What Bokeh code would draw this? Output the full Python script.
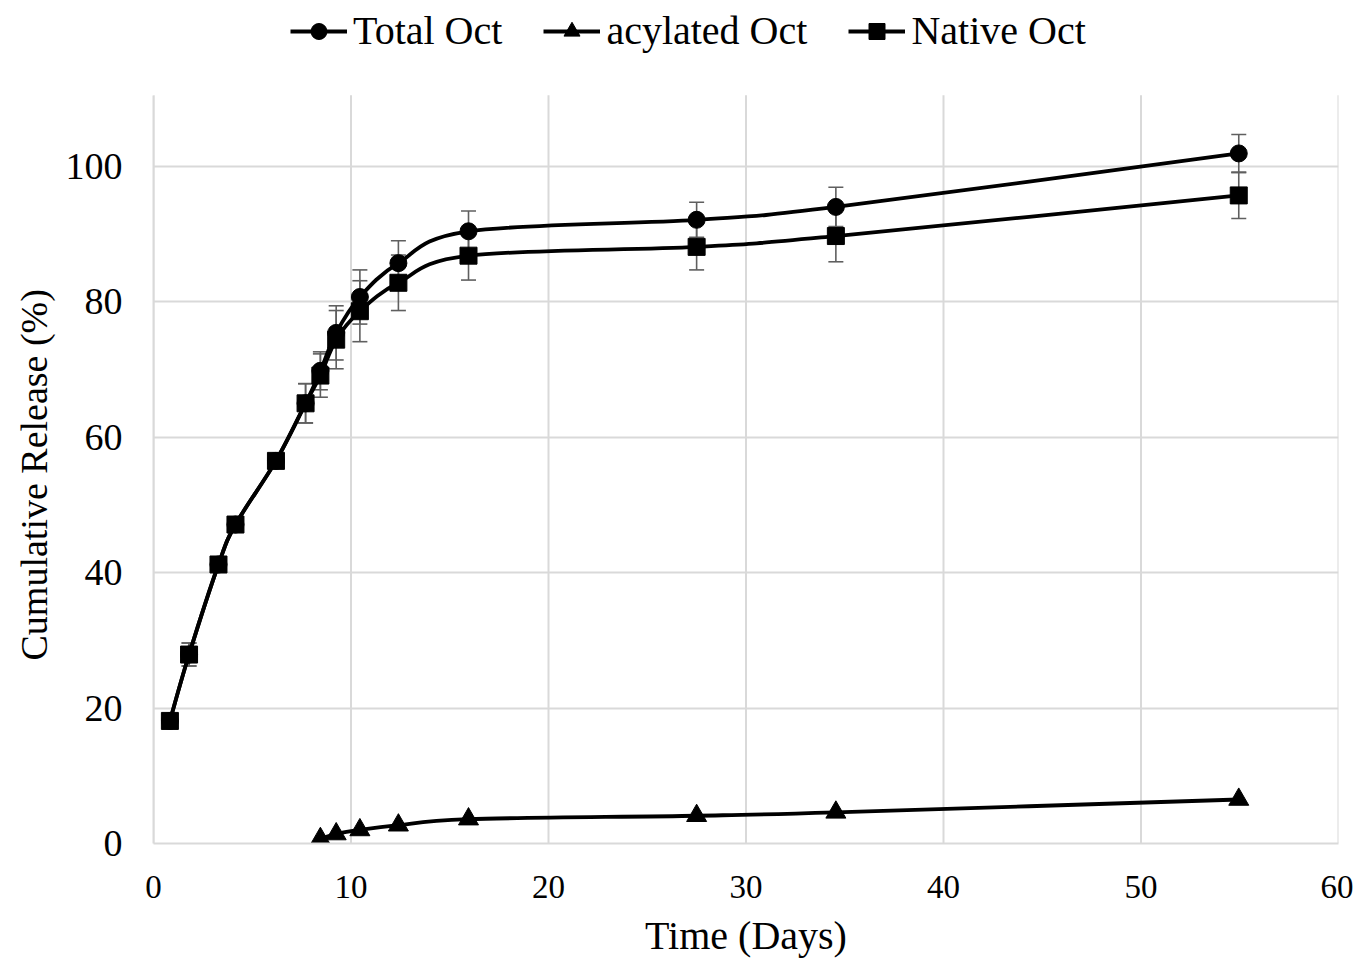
import numpy as np
from bokeh.plotting import figure
from bokeh.models import (Range1d, FixedTicker, Legend, LegendItem, Title,
                          ColumnDataSource, Whisker, TeeHead)
from bokeh.embed import file_html
from bokeh.resources import INLINE

# ---- data ----
days = [0.83, 1.8, 3.29, 4.15, 6.2, 7.7, 8.45, 9.25, 10.45, 12.4, 15.95, 27.5, 34.55, 54.95]
total_oct = [18.1, 27.9, 41.2, 47.1, 56.5, 65.0, 69.8, 75.4, 80.7, 85.7, 90.4, 92.1, 94.0, 101.9]
total_err = [1.0, 1.7, 1.0, 1.0, 1.0, 2.9, 2.8, 4.0, 4.0, 3.3, 3.0, 2.6, 2.9, 2.8]
native_oct = [18.1, 27.9, 41.2, 47.1, 56.5, 65.0, 69.1, 74.4, 78.6, 82.8, 86.8, 88.1, 89.7, 95.7]
native_err = [1.0, 1.7, 1.0, 1.0, 1.0, 2.9, 3.2, 4.3, 4.5, 4.1, 3.6, 3.4, 3.8, 3.4]
acyl_days = [8.45, 9.25, 10.45, 12.4, 15.95, 27.5, 34.55, 54.95]
acyl_oct = [0.7, 1.4, 2.0, 2.7, 3.6, 4.1, 4.6, 6.5]

x_ticks = [0, 10, 20, 30, 40, 50, 60]
y_ticks = [0, 20, 40, 60, 80, 100]

labels = ["Total Oct", "acylated Oct", "Native Oct"]
x_title = "Time (Days)"
y_title = "Cumulative  Release (%)"

FONT = "Liberation Serif"
GRID = "#d9d9d9"
ERR = "#5f5f5f"
LW = 3.8
PLOT_TOP = 110.5      # top of the drawn plot area (data units)
Y_VIEW_TOP = 123.3    # frame extends higher so the legend fits inside it


def smooth_segments(xs, ys):
    """Catmull-Rom style cubic Bezier control points (Excel-like smoothing)."""
    x = np.asarray(xs, float)
    y = np.asarray(ys, float)
    n = len(x)
    xp = np.concatenate([[x[0]], x, [x[-1]]])
    yp = np.concatenate([[y[0]], y, [y[-1]]])
    d = dict(
        x0=x[:-1], y0=y[:-1], x1=x[1:], y1=y[1:],
        cx0=x[:-1] + (xp[2:n + 1] - xp[0:n - 1]) / 6.0,
        cy0=y[:-1] + (yp[2:n + 1] - yp[0:n - 1]) / 6.0,
        cx1=x[1:] - (xp[3:n + 2] - xp[1:n]) / 6.0,
        cy1=y[1:] - (yp[3:n + 2] - yp[1:n]) / 6.0,
    )
    return ColumnDataSource(d)


p = figure(width=1353, height=960, output_backend="svg", toolbar_location=None,
           x_range=Range1d(0, 60), y_range=Range1d(0, Y_VIEW_TOP),
           min_border_left=153, min_border_right=15,
           min_border_top=8, min_border_bottom=117)
p.outline_line_color = None
p.background_fill_color = "white"

# grid: horizontal lines via the grid, vertical lines limited to the plot area
p.ygrid.ticker = FixedTicker(ticks=y_ticks)
p.ygrid.grid_line_color = GRID
p.ygrid.grid_line_width = 2
p.xgrid.visible = False
p.segment(x0=x_ticks, y0=[0] * len(x_ticks), x1=x_ticks,
          y1=[PLOT_TOP] * len(x_ticks), line_color=GRID, line_width=2)

# axes
for ax in (p.xaxis, p.yaxis):
    ax.axis_line_color = GRID
    ax.axis_line_width = 2
    ax.major_tick_line_color = None
    ax.minor_tick_line_color = None
    ax.major_label_text_font = FONT
    ax.major_label_text_color = "black"
    ax.axis_label_text_font = FONT
    ax.axis_label_text_font_style = "normal"
    ax.axis_label_text_color = "black"
p.yaxis.bounds = (0, PLOT_TOP)
p.xaxis.ticker = FixedTicker(ticks=x_ticks)
p.yaxis.ticker = FixedTicker(ticks=y_ticks)
p.xaxis.major_label_text_font_size = "33px"
p.yaxis.major_label_text_font_size = "38px"
p.xaxis.major_label_standoff = 26
p.yaxis.major_label_standoff = 25
p.xaxis.axis_label = x_title
p.xaxis.axis_label_text_font_size = "40px"
p.xaxis.axis_label_standoff = 12

# y title as a side title so it can be centred on the plotted area
yt = Title(text=y_title, align="left", offset=183, standoff=15,
           text_font=FONT, text_font_size="38px", text_font_style="normal",
           text_color="black")
p.add_layout(yt, "left")


# error bars
def add_err(xs, ys, es):
    y = np.asarray(ys, float)
    e = np.asarray(es, float)
    src = ColumnDataSource(dict(x=xs, lower=y - e, upper=y + e))
    w = Whisker(source=src, base="x", lower="lower", upper="upper",
                dimension="height", line_color=ERR, line_width=1.6,
                upper_head=TeeHead(size=15, line_color=ERR, line_width=1.6),
                lower_head=TeeHead(size=15, line_color=ERR, line_width=1.6))
    p.add_layout(w)


add_err(days, total_oct, total_err)
add_err(days, native_oct, native_err)

# smoothed lines
for xs, ys in ((days, total_oct), (acyl_days, acyl_oct), (days, native_oct)):
    p.bezier(x0="x0", y0="y0", x1="x1", y1="y1", cx0="cx0", cy0="cy0",
             cx1="cx1", cy1="cy1", source=smooth_segments(xs, ys),
             line_color="black", line_width=LW)

# markers
r_tot = p.scatter(days, total_oct, marker="circle", size=17, color="black")
r_acy = p.scatter(acyl_days, acyl_oct, marker="triangle", size=20, color="black")
r_nat = p.scatter(days, native_oct, marker="square", size=17, color="black")

# lines holding a single NaN point: used only for the legend glyphs
nan = np.array([np.nan])
l_tot = p.line(x=nan, y=nan, line_color="black", line_width=LW)
l_acy = p.line(x=nan, y=nan, line_color="black", line_width=LW)
l_nat = p.line(x=nan, y=nan, line_color="black", line_width=LW)

legend = Legend(items=[
    LegendItem(label=labels[0], renderers=[l_tot, r_tot]),
    LegendItem(label=labels[1], renderers=[l_acy, r_acy]),
    LegendItem(label=labels[2], renderers=[l_nat, r_nat]),
], orientation="horizontal", location=(137, 789))
legend.glyph_width = 57
legend.glyph_height = 40
legend.label_standoff = 6
legend.spacing = 41
legend.padding = 0
legend.margin = 0
legend.border_line_color = None
legend.background_fill_alpha = 0
legend.label_text_font = FONT
legend.label_text_font_size = "40px"
legend.label_text_color = "black"
p.add_layout(legend)

open("out.html", "w").write(file_html(p, INLINE))
